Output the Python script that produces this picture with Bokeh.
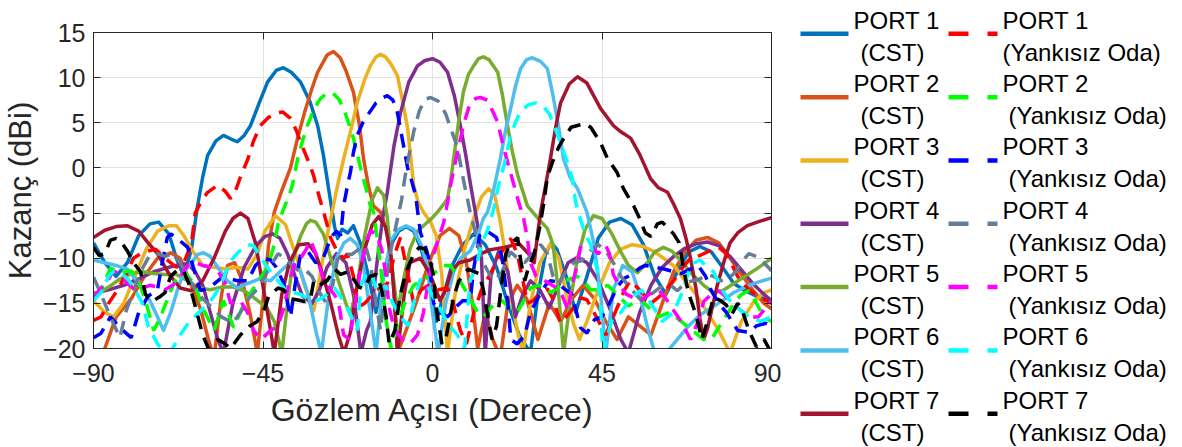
from bokeh.plotting import figure
from bokeh.models import Range1d, FixedTicker, LinearAxis, CustomJSTickFormatter
from bokeh.layouts import row, column
from bokeh.embed import file_html
from bokeh.resources import INLINE
from bokeh.core.properties import value

# ---------------- data (angle in degrees, gain in dBi) ----------------
x_ticks = [-90, -45, 0, 45, 90]
y_ticks = [-20, -15, -10, -5, 0, 5, 10, 15]

p1c_ang = [-90,-87,-84,-81,-78,-75,-72.7,-70,-68,-66,-64,-62.5,-61,-59.7,-57.5,-55.5,-53.5,-51.8,-50,-48.3,
           -46,-43.8,-41.5,-39.6,-37.5,-35,-32.5,-30.5,-29,-27.5,-26,-25.2,-24,-22.5,-21,-19,-17,-15,-13,-11,
           -9,-7,-5,-3,-1,1,3,5,8,11,14,17,20,23,26,28,30,31.5,33,35.5,38,41,44,47,50,53,56,59,62,65,
           68,71,74,77,80,83,86,90]
p1c_db = [-8.3,-10.5,-12.0,-10.5,-7.5,-6.2,-6.0,-7.3,-10,-12,-9,-4.5,-1.0,1.4,3.0,3.6,3.2,2.9,3.6,4.7,
          7.2,9.5,10.8,11.1,10.6,9.5,7.3,4.7,1.5,-2.5,-6.5,-7.8,-6.8,-7.2,-6.4,-8.5,-12,-16,-12,-8.5,
          -7.0,-6.5,-7.0,-9,-12,-17,-14,-11,-8.5,-7.3,-8.5,-11,-15,-18.5,-20.5,-14,-9.5,-8.3,-9,-12,
          -16,-12,-7.8,-6.0,-5.6,-6.3,-8.5,-12,-14,-11.5,-9.3,-8.7,-9.3,-11,-12.8,-13.6,-14.2,-14.7]

p2c_ang = [-90,-87,-84,-80,-76.5,-73,-69.5,-67,-64.5,-61.6,-59.5,-58,-56,-54.4,-52.5,-50.5,-48.5,-46.5,-44.8,-43.5,
           -42,-40,-37.7,-36,-34,-32,-30.5,-28,-26.3,-24.5,-23,-21,-19.5,-18.3,-17,-15.7,-13.8,-12,-10.5,-9.3,
           -7,-4,-1,2,4.5,7,9,10.5,12,14,16,18,20,22.5,25,28,31,34,37,40,
           43,46,49,52,55,58,61,64,67,70,73,76,79,82,85,88,90]
p2c_db = [-22,-20,-16.5,-14.5,-12,-10,-9.4,-10,-12.5,-15.6,-19,-21,-14,-10.8,-10.5,-12.5,-16,-20.5,-13.8,-8.5,
          -4.9,-2.5,0,3,6.1,8.8,10.6,12.5,12.9,12.2,10.8,8.4,5,1.0,-2,-4.2,-4.9,-7.1,-12,-20.5,
          -18,-14.5,-10.5,-7.5,-6.7,-7.5,-10.5,-14.7,-20,-16,-19,-21,-15,-13,-14.5,-19,-15,-17,-14.5,-13,
          -14.5,-17,-19,-16.5,-17.5,-18.5,-15,-11.5,-9.3,-8.0,-7.7,-8.3,-10,-11.8,-13.5,-15,-15.6]

p3c_ang = [-90,-87,-84.7,-82,-79,-76,-73,-70,-68,-66,-64,-61,-58,-55,-52,-49,-46.5,-44.5,-41.7,-39,
           -37.5,-36,-34,-31.5,-29.5,-28,-27,-25.5,-23.6,-21.5,-20,-18,-16.5,-15,-13.8,-12.5,-11,-9.3,-8,-6.6,
           -5,-3.8,-2.4,-0.5,1,2.5,4,6,8.5,11,13,14.9,16.5,18,19.5,21,22.6,24,26,28.5,
           31.3,33.5,35.5,37.4,39,41,44,47,50,53,56,59,62,64.5,67,70,73,76,79,82,85,88,90]
p3c_db = [-14.7,-16,-16.5,-15,-12,-9,-7,-6.4,-6.4,-7.5,-9,-10.8,-11,-11.2,-11,-11.2,-9.5,-7,-5.3,-6.3,
          -8.2,-10,-13,-15.8,-11,-7.5,-5.6,-2.5,1.0,4.5,7.2,9.8,11.3,12.3,12.6,12.3,11.5,10.2,7.5,4.4,
          -1.9,-3.8,-4.9,-6.0,-7.5,-12,-20.5,-14,-9,-5.5,-3.2,-2.3,-3,-6,-10,-14.5,-18.2,-20.5,-15,-10.5,
          -8.4,-10,-14,-17.2,-19,-17,-13.5,-10.5,-9.0,-8.5,-8.7,-9.3,-10.2,-11,-12.5,-14,-16,-18,-20.5,-17,
          -15,-13.8,-13.5]

p4c_ang = [-90,-86,-82,-78,-74,-70,-67,-65,-63,-61,-59,-57,-55.5,-53,-50,-47,-44.5,-42.5,-40.5,-38.5,
           -36.5,-34.5,-32,-30,-28,-25.5,-23,-21,-19,-17.5,-16.5,-14.6,-13.2,-12,-10.2,-8.5,-6.3,-4,-2,0,
           2,4,5.8,7.4,8.8,10,11,12,13,14,15.5,17.5,20,22,24,26,28.5,31,33.5,36,
           38.5,41,44,47,50,52,55,58,61,64,67,70,73,76,79,82,85,88,90]
p4c_db = [-13.9,-13.5,-13,-12.3,-11.5,-11,-10.7,-10.6,-11.5,-13,-16,-19,-20.5,-15,-11,-8.7,-7.6,-7.3,-7.8,-9.5,
          -12,-14.2,-15,-13.5,-11,-9.5,-10.5,-14,-20.5,-18,-17,-10,-5.5,-2.7,2.5,6.1,9.5,11.3,11.9,12.1,
          11.7,10.6,8,4.7,1.5,-1.6,-4,-6.4,-10,-20.5,-12,-9.3,-11.5,-16.5,-14,-12.5,-13.5,-15.5,-13,-10.5,
          -9.9,-10.5,-12.5,-15.5,-19,-20.5,-16,-13,-11,-9.8,-8.9,-8.4,-8.2,-8.6,-9.8,-11.3,-12.8,-14,-14.7]

p5c_ang = [-90,-86,-83,-80,-77,-74,-71,-68,-65,-62,-59,-56,-53,-50,-47,-44,-42,-40,-38.5,-37,
           -35,-33.5,-32.4,-31,-29,-27,-25,-23,-21.8,-20,-18,-16,-14.6,-13,-12,-11,-10,-9.3,-8,-6,
           -4,-2.4,0,1.3,3,4,4.8,5.6,6.9,8.2,9.5,10.9,12.2,13.5,15,17.3,18.6,19.9,21.2,22.6,
           25.2,28,30.5,32,33.5,34.8,36.5,38.5,40.5,42.7,45,47.5,50,52,54.4,57,59,61.3,63.5,66,
           69,72,74.6,77,80,83,86,90]
p5c_db = [-14.2,-13.2,-12.3,-11.7,-11.5,-11.7,-11.8,-11.8,-12.5,-13.3,-13.5,-13.2,-13.2,-13.6,-14.5,-15.5,-17,-20.5,-15,-10,
          -7.5,-6.2,-5.8,-6,-7.3,-10,-12.5,-15,-16.3,-13,-7.5,-3.5,-2.2,-3,-5.5,-10,-13.5,-16,-13,-9,
          -7,-6.4,-5.5,-4.9,-4,-3.4,-1.5,1.0,5,8.4,10.3,11.3,12.1,12.3,12,10.6,8,4.7,1.8,-0.8,
          -4.2,-5.6,-6.7,-8.5,-14,-20.5,-15,-10,-6.8,-5.3,-5.6,-7.2,-9.3,-10.8,-11.6,-10.5,-9.3,-8.8,-9.2,-10.3,
          -11.8,-13,-13.8,-13.6,-12.8,-12,-11.2,-10]

p6c_ang = [-90,-87,-84,-81,-78.5,-75,-73,-71.4,-69.5,-67.7,-66,-64,-62.5,-60.8,-59,-57,-54.5,-51.8,-49,-46,
           -43,-40,-37.5,-35,-33,-31,-29.5,-27.5,-25.5,-23.5,-21.8,-20,-18.5,-16.5,-15,-13,-11,-9,-7,-5,
           -3,-1.3,0,1.5,3.5,5.6,7.5,10,12,13.5,14.6,16.3,18,19.3,20.7,22,23.4,25,26.5,28.7,
           30.5,32,33.5,34.8,36.5,38.5,41,42.8,44.6,46,48,50.5,53,55,57,59,62,65,68,71,
           74,77,80,83,86,90]
p6c_db = [-10.2,-10.5,-10.8,-11.2,-12.5,-14.7,-16.5,-18,-16,-13.5,-11.5,-10.6,-9.6,-9.4,-9.8,-11,-12.5,-13.3,-12.8,-12.3,
          -12.5,-11.3,-10.4,-11.5,-14,-18,-20.5,-14,-10,-8.3,-7.8,-8.5,-10.5,-16,-20.5,-12,-8,-6.8,-6.4,-6.8,
          -8.5,-11,-16,-20.5,-15,-11.5,-10,-9.2,-7.5,-5.6,-4.9,-2.3,1.0,4,6.5,9,11,12,12.2,11.8,
          11.0,8,4.5,1.0,-1.0,-2.3,-4.9,-8.3,-13.8,-20.5,-13.5,-10.8,-11.5,-14,-17.5,-20.5,-20.5,-19,-17.5,-16.3,
          -15.5,-14.7,-13.8,-13.2,-12.7,-12.2]

p7c_ang = [-90,-87,-84,-81,-78,-75.5,-73,-70,-67,-64,-61,-58,-55,-53,-51,-49,-47,-44.8,-43,-42,
           -40,-38,-35.5,-33,-31,-29,-27,-25,-23.5,-21.8,-20,-18,-16,-14.3,-12.5,-11,-10,-9.3,-7.5,-6,
           -3.2,-1,0.3,2,3.5,5,7,10,13,15,19,23,25.5,27,28,28.7,30,31.3,32.7,34,
           36.3,38.5,41,44.6,48,50,52.6,55,57.9,60,62.4,64,65.8,67.3,68.5,70,71,72,73,75.6,
           77.5,79,81,83.6,87,90]
p7c_db = [-7.7,-6.9,-6.5,-6.4,-7.0,-8.3,-9.5,-11.7,-13.3,-13.6,-12.5,-10,-7,-5.6,-5.0,-5.6,-8.3,-13.6,-18,-20.5,
          -14,-10.5,-8.5,-8.4,-9.5,-12,-15,-18.5,-20.5,-18.2,-13,-9,-6.3,-5.4,-6.5,-9.8,-15,-20.5,-14,-10.5,
          -10,-11.5,-12.8,-14.7,-13.5,-11.4,-10.5,-10.2,-9.5,-9.1,-8.8,-8.4,-9.5,-10.5,-7,-4.9,-2,1.0,4.5,7.2,
          9.3,10.1,9.4,6.6,4.7,4.0,3.3,1.5,-1.2,-2.2,-2.7,-4,-5.6,-7.8,-10,-13.5,-16.7,-19,-17.8,-13,
          -10.2,-8.3,-7.2,-6.4,-5.9,-5.5]

p1m_ang = [-90,-88,-86,-83.6,-81,-79.4,-77.5,-75.5,-73.5,-71,-68,-66,-64,-63,-61.5,-59.7,-57,-55,-53.6,-52,
           -51,-49,-47.5,-45.7,-43.5,-41.2,-39.8,-37.7,-36,-35,-33,-31.6,-30,-28.9,-27,-25,-23.5,-22.6,-21,-20,
           -18,-15,-12,-10,-8.5,-6.6,-5,-3,-1,1.5,4,5.5,7.4,9,11,13,15.4,18,20.7,22.5,
           24,25.2,26.8,28.5,30.5,32,34,36.5,39.3,41,43.5,46,48.5,51,52.5,55,58,61,64,66.5,
           68.5,71,73.5,76,78,81,84,87,90]
p1m_db = [-16.9,-16.5,-15,-13.5,-11.5,-10,-9.5,-9.2,-9.0,-10,-11,-10.5,-8.4,-5.0,-3.8,-2.7,-1.9,-2.6,-3.4,-2.2,
          -1.0,1.0,3,4.7,5.6,6.1,6.2,5.5,4,2.8,0.8,-0.8,-3.3,-4.9,-7.8,-9.5,-10,-9.5,-12,-15.5,
          -15,-13.6,-12.8,-9.5,-7.7,-11.7,-15,-13.5,-13,-13.5,-13.3,-15,-18,-19.5,-16,-13.5,-11.7,-9.5,-7.8,-9.5,
          -12.5,-15,-14.7,-13.8,-13.4,-14.5,-17.2,-16,-14.4,-14.6,-16.5,-18.5,-16,-13.5,-12.5,-13.5,-15,-14,-12.5,-11,
          -10,-9.7,-9.2,-8.8,-9.5,-12,-13.5,-14.3,-15]

p2m_ang = [-90,-88,-85.5,-83,-80,-78,-76,-74,-72,-69.5,-67.5,-65.5,-63,-61,-58,-55.5,-52.8,-50,-47,-43.8,
           -42,-41,-39.5,-38,-37.2,-35.8,-34.5,-33.2,-31.5,-29.7,-28,-26.5,-25,-23.6,-22.3,-21,-19.1,-17.5,-16.5,-15.7,
           -14.6,-13.5,-12.5,-11,-9,-7,-5,-3,-1,1,3,4.8,6.5,8,10,12,13.5,15.5,17,18.5,
           20.5,22.5,24.5,26,28,29.5,31.5,33.5,35,36.6,38.5,40,42,44,46.5,49,52,55,57.5,60,
           63,66,69,72,74,77,80,82,84,86,88,90]
p2m_db = [-14.1,-13.5,-11.1,-11.6,-11.4,-12.5,-15,-18,-16.3,-13.6,-11.7,-11.7,-13,-15.5,-18,-14.7,-17.7,-15,-13,-11,
          -8.5,-6.2,-4.5,-3.0,-1.9,1.0,3,4.7,6.5,7.7,8.3,8.3,7.7,6.6,5,3.3,0,-2.5,-4.2,-4.8,
          -8,-12,-16.5,-20,-17,-14.5,-13,-12.5,-12,-11.5,-10.8,-10.8,-12,-13,-14.5,-16,-16.5,-15.5,-14.8,-14.7,
          -15.5,-16,-14.5,-13.3,-13,-13.2,-13.8,-13.2,-12.5,-12.3,-12,-12.5,-13.5,-13.5,-13,-14,-15.3,-14.5,-15.5,-16.5,
          -16,-17,-18,-19,-19,-17,-15,-14,-13.6,-15,-16.5,-17]

p3m_ang = [-90,-88,-85.5,-83,-80,-78,-75.5,-73,-72,-70.4,-69.5,-67.5,-65,-63.5,-61.6,-59,-57,-55.5,-53.5,-51.8,
           -49,-47,-45,-43,-41.5,-39.6,-37.7,-36.5,-35,-33,-31,-29,-27,-25.5,-24.4,-23.6,-22.5,-21.8,-21,-20,
           -18.5,-17.3,-15,-13,-12,-10.5,-9.3,-7.7,-6.6,-5.5,-4.5,-3.2,-2,-1,0.3,2,4,6,8,10,
           11,12.5,14.5,17,18.5,20,20.8,22.5,24.5,26,28,30,31.3,33,35,37,39.3,41,43,45,
           47,49,51,53,55,56.5,59,61.5,64,66,68,70.5,72.5,74,76,78,81,84,86,88.5,90]
p3m_db = [-18.8,-18.3,-16.5,-17.7,-18.8,-16,-14.2,-13.5,-11,-7.7,-7.3,-7.9,-8.8,-11,-13.6,-13.2,-12.5,-12,-12.3,-12.5,
          -12.5,-10.8,-10,-10.2,-11,-12.7,-16.5,-13,-9.5,-9.3,-10.5,-10,-7.7,-7,-7.5,-4.2,-1.8,-0.5,1.7,3.6,
          5,5.8,7.2,7.8,8.0,7.5,6.1,2.5,0,-1.5,-3,-7.2,-8.5,-10,-15,-16,-16.5,-15.5,-14.7,-14.7,
          -11,-7.5,-7,-7.7,-10,-15,-19,-19.5,-18.5,-16,-14.4,-13,-12.5,-12.6,-13.4,-14,-17.7,-18.3,-16.8,-16.5,
          -15,-13.2,-12.2,-11.8,-11.1,-10.8,-11,-11.2,-11.5,-11.7,-11.3,-10.8,-12,-13.6,-15,-16,-18,-18.2,-17.5,-17.2,-17.5]

p4m_ang = [-90,-88.5,-87.3,-85.5,-83,-81.3,-79.5,-77.5,-75,-73,-71,-69,-67,-65,-63,-61,-58.5,-56,-53,-51,
           -48.5,-46,-43.5,-41,-39,-37,-35,-33.5,-32,-30,-28.5,-26.5,-25.2,-23.5,-21.5,-19.5,-17.8,-16.5,-15,-13.8,
           -12.5,-11,-9.5,-8.2,-7.3,-6.3,-5,-3.5,-2,-0.5,1.5,3.5,5,6.6,8.2,9.2,10,11,12,13.5,
           15,16.5,18.5,20.7,22.6,24.5,26.5,28.7,30.5,32,33.5,35.5,37.5,39.5,41.5,44,46,48,50,52.5,
           55,58,60.5,63,65,67,69,71,73,74.6,76.5,78.5,80.5,82.5,84,86,88,90]
p4m_db = [-12.1,-13.5,-14.7,-16.5,-18.8,-15.8,-13.7,-11.5,-9.6,-9.5,-9.8,-9.5,-10.5,-12,-13.5,-14.5,-15.5,-16.5,-17.2,-16,
          -14.3,-13.2,-11.2,-9.5,-10,-11,-11.5,-11.4,-12,-13.8,-14.8,-13,-10.1,-9.5,-9.6,-9,-8.6,-10.5,-15,-18,
          -13,-9,-6,-3.5,-1,1.3,4,6.3,7.6,7.8,7.4,6,4.2,2.3,-1.3,-3.3,-4.9,-6.5,-8.5,-10.5,
          -11.7,-12.5,-11.5,-9.3,-10,-10.5,-9.5,-8.5,-9.5,-12,-12.8,-11.4,-10.5,-10.3,-9.3,-8.5,-9.2,-10.5,-12,-13.3,
          -14.5,-14,-13.2,-12.9,-13.6,-12.8,-12.5,-12.3,-11.8,-12,-12.5,-12.3,-11.5,-10.2,-9.5,-9.8,-10.5,-11.4]

p5m_ang = [-90,-88,-86,-84.7,-83,-81,-79,-77,-75,-73,-71,-69,-67,-65,-63,-61,-59,-57,-55,-53.6,
           -51,-49,-47.5,-45.5,-43,-41,-39.5,-38,-36.5,-35,-33.5,-32.4,-31,-29,-27,-25,-23.6,-22,-20.5,-19,
           -17.5,-16.5,-15,-13.5,-12.5,-11.5,-10,-8,-6,-4,-3,-2.4,-1.3,0.3,1.5,3,4,4.8,6.6,8.2,
           10,11.5,12.7,14.6,17.3,18.9,20.7,22.6,24.2,25.2,26,27.5,29,31,33,34.5,36,37,38,39.3,
           40.5,42,44,46,47,48,49.5,51.5,53.5,55,57.5,60,62,63.5,66,68.5,70.5,72,74,76,
           78.5,81,84,86.5,88.5,90]
p5m_db = [-14.3,-13.3,-12.3,-11.4,-11.8,-12.8,-13.5,-13.3,-13.0,-13.2,-13.5,-13,-12,-10.8,-10.5,-10.8,-11,-11.4,-12.8,-15,
          -14.7,-16.1,-18,-19,-18,-17.5,-15.5,-12.5,-10.5,-10,-9,-8,-9.5,-12.3,-13.5,-14.7,-18.5,-19,-15,-11,
          -8,-7,-7.2,-9,-11.5,-15.5,-18,-19,-19.5,-18.5,-17,-16,-13,-9.6,-8,-6,-3.8,-1.9,1.7,4.7,
          7.2,7.7,7.8,7.5,5.1,2.2,-0.5,-3.4,-5.6,-7.8,-10.5,-12,-12.3,-12.8,-13.3,-14.2,-15.8,-13,-11.5,-8.8,
          -8.5,-8.7,-9.5,-8.6,-9.5,-11.8,-13,-14,-14.4,-14.8,-14,-13.5,-14.5,-15.5,-17,-19,-17,-14.8,-14,-13.6,
          -14.5,-15.5,-16.5,-16.5,-15.5,-14.7]

p6m_ang = [-90,-88,-86,-84.5,-82.5,-80.5,-79,-77,-75.5,-73,-71,-69,-67,-64.5,-62,-60,-58.5,-56.5,-53.6,-51.5,
           -49,-47.5,-45.5,-43.5,-41,-39,-37,-35,-33,-30.5,-28,-26,-24,-22,-20,-19,-17.5,-16,-14.5,-12.5,
           -10.5,-8.5,-6.5,-5,-3.2,-1.5,0.5,2.5,4.5,6.6,8.5,10,11.5,13,14.5,16.3,17.5,19,20.7,22,
           23.4,25.5,27.5,29.5,31,32.5,34,35.5,37,38,39,40.5,42,43.8,44.6,45.2,47.5,50,52.5,55.5,
           58,61,64,66.6,68,69.5,71,73,74.6,77,78.5,81,84,87,90]
p6m_db = [-14.7,-13.8,-12,-11.4,-11.7,-12.5,-13.5,-15,-17.5,-19.5,-20.5,-20,-18.5,-17,-16,-15.2,-14.5,-13.2,-10.3,-9.3,
          -8.5,-8.6,-10,-11.2,-12.5,-13.5,-13.8,-14,-14.5,-14.7,-14,-13.3,-14.5,-16,-18,-13,-11.5,-12,-14,-13,
          -15,-16.5,-17.5,-15,-12.3,-13,-14.5,-16,-17.5,-18.5,-20,-12.5,-11,-8.5,-7,-4.5,-2,0.3,3.5,5,
          6.3,7,7.2,6.8,6,4.5,2.7,1.0,-1.0,-3.8,-5.3,-7.3,-8.5,-11.4,-15,-20.5,-17,-16,-14.5,-13.5,
          -15,-17,-16,-13.5,-11.5,-10.5,-10.2,-11,-11.5,-13.6,-14.5,-15.5,-16.5,-17,-16.5]

p7m_ang = [-90,-88.5,-87,-85.5,-84,-82.5,-81,-79.4,-77.5,-76.2,-74.5,-72.5,-71,-69.5,-67.5,-66,-64.5,-63,-61,-59.5,
           -57,-55,-53.6,-51,-48.5,-46.5,-44.5,-43.5,-41,-39.5,-38,-36,-34,-32.4,-31.5,-30,-28,-26,-24.4,-22.5,
           -21,-19.5,-18.3,-16.5,-14.8,-13.5,-12.3,-11.5,-10,-8.5,-7,-5,-3.5,-2,-0.5,0.3,0.8,2.5,3.5,4.5,
           5.5,7,9.5,12.3,13.5,14.5,15.8,17,18.3,19.5,20.5,22.6,23.5,24.5,25.5,27,28.5,29.5,30.5,32,
           33.5,35,36.8,38.5,40.5,42,44.6,46.5,49,50.7,53.4,55,56.5,58,59.7,61,62.4,64,65.5,66.6,
           67.5,68.5,70,71.5,73,74.6,76.5,78,79.5,81,82,84,86,88,90]
p7m_db = [-8.8,-9.7,-9.5,-8,-7.8,-8.3,-9.2,-10.5,-11.5,-14,-14.8,-14.3,-13.8,-12,-11.2,-11.5,-13,-15.3,-18.5,-20,
          -19,-19.5,-20,-18.5,-17.5,-17,-15.5,-14.2,-13.3,-13.5,-14.5,-14.6,-14.8,-14.5,-12.5,-13,-12.5,-11.2,-11.8,-11.5,
          -12.3,-13.2,-13.4,-12,-11.8,-13.5,-16.5,-19.5,-18,-14,-11.5,-9.5,-8.8,-9.0,-10.5,-12,-15,-19.5,-19,-16.8,
          -14.5,-12.5,-11.2,-11.7,-13.5,-16,-19,-17.5,-13,-9.5,-8.5,-7.7,-10.5,-12.5,-11,-9.5,-6.5,-4,-1,0.8,
          2.3,3.4,4.5,4.7,4.9,4.5,2.8,1.0,-0.5,-2.3,-4.2,-5.6,-7.2,-7.6,-6.2,-6.0,-6.6,-7.3,-8.3,-11,
          -13,-14.5,-16.3,-19,-17,-14.3,-14.7,-15.2,-16.2,-15,-15.5,-18,-19.8,-19,-20.5]

port_names = ["PORT 1", "PORT 2", "PORT 3", "PORT 4", "PORT 5", "PORT 6", "PORT 7"]
cst_label = "(CST)"
meas_label = "(Yankısız Oda)"
cst_colors = ["#0072BD", "#D95319", "#EDB120", "#7E2F8E", "#77AC30", "#4DBEEE", "#A2142F"]
meas_colors = ["#FF0000", "#00FF00", "#0000FF", "#657E98", "#FF00FF", "#00FFFF", "#000000"]
cst_data = [(p1c_ang, p1c_db), (p2c_ang, p2c_db), (p3c_ang, p3c_db), (p4c_ang, p4c_db),
            (p5c_ang, p5c_db), (p6c_ang, p6c_db), (p7c_ang, p7c_db)]
meas_data = [(p1m_ang, p1m_db), (p2m_ang, p2m_db), (p3m_ang, p3m_db), (p4m_ang, p4m_db),
             (p5m_ang, p5m_db), (p6m_ang, p6m_db), (p7m_ang, p7m_db)]

# ---------------- styles ----------------
FONT = "Liberation Sans"
AX = "#262626"
DASH = "14 9"
MAIN_W, H = 781, 446
LEG_W = 400

p = figure(width=MAIN_W, height=H, min_border_left=93, min_border_top=32,
           min_border_bottom=98, min_border_right=10, output_backend="svg", toolbar_location=None,
           x_range=Range1d(-90, 90), y_range=Range1d(-20, 15), title=None)
p.background_fill_color = "white"
p.border_fill_color = "white"
p.outline_line_color = AX
p.outline_line_width = 1

for ax in (p.xaxis[0], p.yaxis[0]):
    ax.major_label_text_font = FONT
    ax.major_label_text_font_size = "25px"
    ax.major_label_text_color = AX
    ax.axis_label_text_font = FONT
    ax.axis_label_text_font_style = "normal"
    ax.axis_label_text_color = AX
    ax.axis_line_color = AX
    ax.major_tick_line_color = AX
    ax.major_tick_in = 7
    ax.major_tick_out = 0
    ax.minor_tick_line_color = None

p.xaxis.ticker = FixedTicker(ticks=x_ticks)
p.yaxis.ticker = FixedTicker(ticks=y_ticks)
p.xaxis.axis_label = "Gözlem Açısı (Derece)"
p.yaxis.axis_label = "Kazanç (dBi)"
p.xaxis.axis_label_text_font_size = "32px"
p.yaxis.axis_label_text_font_size = "31px"
p.xaxis.major_label_standoff = 15
p.yaxis.major_label_standoff = 8
p.xaxis.axis_label_standoff = 7
p.yaxis.axis_label_standoff = 2

empty = CustomJSTickFormatter(code="return ''")
top_ax = LinearAxis(ticker=FixedTicker(ticks=x_ticks), formatter=empty, major_tick_in=7, major_tick_out=0,
                    minor_tick_line_color=None, axis_line_color=AX, major_tick_line_color=AX,
                    major_label_text_font_size="1px", major_label_standoff=0)
right_ax = LinearAxis(ticker=FixedTicker(ticks=y_ticks), formatter=empty, major_tick_in=7, major_tick_out=0,
                      minor_tick_line_color=None, axis_line_color=AX, major_tick_line_color=AX,
                      major_label_text_font_size="1px", major_label_standoff=0)
p.add_layout(top_ax, "above")
p.add_layout(right_ax, "right")

p.xgrid.ticker = FixedTicker(ticks=x_ticks)
p.ygrid.ticker = FixedTicker(ticks=y_ticks)
p.grid.grid_line_color = "#E3E3E3"
p.grid.grid_line_width = 1

for (ang, db), col in zip(cst_data, cst_colors):
    p.line(ang, db, line_color=col, line_width=3.5, line_join="round")
for (ang, db), col in zip(meas_data, meas_colors):
    p.line(ang, db, line_color=col, line_width=3.5, line_dash=DASH)

# ---------------- legend panel ----------------
leg = figure(width=LEG_W, height=H, min_border=0, output_backend="svg", toolbar_location=None,
             x_range=Range1d(0, LEG_W), y_range=Range1d(H, 0), x_axis_location=None, y_axis_location=None,
             title=None)
leg.xgrid.visible = False
leg.ygrid.visible = False
leg.outline_line_color = None
leg.background_fill_color = "white"
leg.border_fill_color = "white"

pitch = 63.33
for i, name in enumerate(port_names):
    y_line = 33.3 + pitch * i
    leg.line([19, 67], [y_line, y_line], line_color=cst_colors[i], line_width=4.5)
    leg.line([167, 216], [y_line, y_line], line_color=meas_colors[i], line_width=4.5, line_dash="20 19")
    y1 = 19.8 + pitch * i
    y2 = 51.6 + pitch * i
    leg.text([72, 221], [y1, y1], text=[name, name], text_font=value(FONT), text_font_size="24px",
             text_baseline="middle", text_align="left", text_color="#000000")
    leg.text([79], [y2], text=[cst_label], text_font=value(FONT), text_font_size="24px",
             text_baseline="middle", text_align="left", text_color="#000000")
    leg.text([221 if i == 0 else 227], [y2], text=[meas_label], text_font=value(FONT), text_font_size="24px",
             text_baseline="middle", text_align="left", text_color="#000000")

layout = row(p, column(leg))
open("out.html", "w").write(file_html(layout, INLINE))
